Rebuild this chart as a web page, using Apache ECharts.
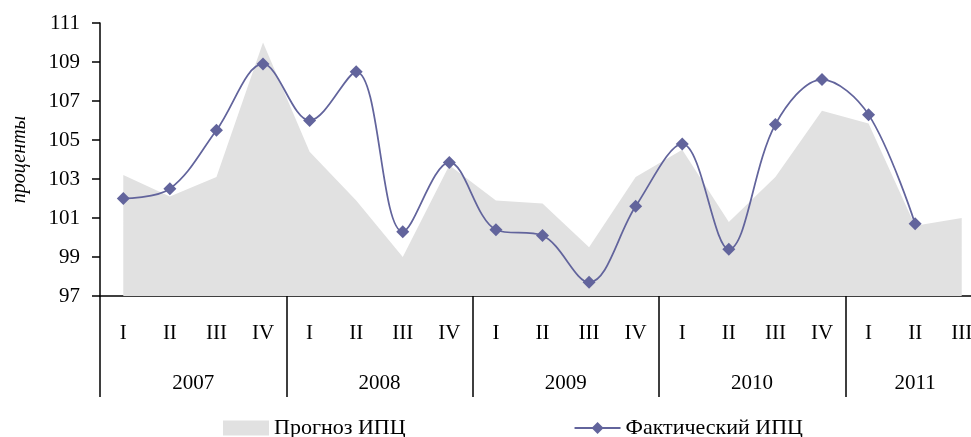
<!DOCTYPE html>
<html><head><meta charset="utf-8">
<script src="https://cdn.jsdelivr.net/npm/echarts@6/dist/echarts.min.js"></script>
<style>html,body{margin:0;padding:0;background:#fff}#c{width:971px;height:437px}</style>
</head><body><div id="c"></div>
<script>
const quarters = ['I','II','III','IV','I','II','III','IV','I','II','III','IV','I','II','III','IV','I','II','III'];
const years = ['2007','2008','2009','2010','2011'];
const quartersPerYear = [4,4,4,4,3];
const forecastCPI = [103.2,102.1,103.1,110.0,104.4,101.9,99.0,103.7,101.9,101.75,99.5,103.1,104.5,100.8,103.1,106.5,105.85,100.6,101.0];
const actualCPI = [102.0,102.5,105.5,108.9,106.0,108.5,100.3,103.85,100.4,100.1,97.7,101.6,104.8,99.4,105.8,108.1,106.3,100.7,null];
const yTicks = {min: 97, max: 111, interval: 2};

const FONT = '"Liberation Serif", "Times New Roman", serif';
const boundaries = [0]; const centers = []; let acc = 0;
quartersPerYear.forEach(n => { centers.push(acc + n/2); acc += n; boundaries.push(acc); });
const labelMap = {}; centers.forEach((c,i) => labelMap[c] = years[i]);

const chart = echarts.init(document.getElementById('c'), null, {renderer:'canvas'});
chart.setOption({
  animation: false,
  backgroundColor: '#fff',
  textStyle: {fontFamily: FONT},
  grid: {left: 100, top: 23, width: 885, height: 273, containLabel: false, outerBoundsMode: 'none'},
  legend: {
    left: 218, top: 412, itemGap: 168, itemWidth: 46, itemHeight: 15,
    textStyle: {fontFamily: FONT, fontSize: 22, color: '#000'},
    data: [{name: 'Прогноз ИПЦ', icon: 'rect'}, {name: 'Фактический ИПЦ'}]
  },
  xAxis: [{
    type: 'category', data: quarters, boundaryGap: true,
    axisLine: {lineStyle: {color: '#000', width: 1.5}},
    axisTick: {show: false},
    axisLabel: {interval: 0, margin: 27, color: '#000', fontFamily: FONT, fontSize: 21}
  }, {
    type: 'value', position: 'bottom', min: 0, max: quarters.length,
    axisLine: {show: false}, splitLine: {show: false},
    axisTick: {show: true, customValues: boundaries, length: 101, lineStyle: {color: '#000', width: 1.5}},
    axisLabel: {customValues: centers, margin: 77, color: '#000', fontFamily: FONT, fontSize: 21,
      formatter: v => labelMap[v] || ''}
  }],
  yAxis: {
    type: 'value', min: yTicks.min, max: yTicks.max, interval: yTicks.interval,
    name: 'проценты', nameLocation: 'middle', nameGap: 70, nameRotate: 90,
    nameTextStyle: {fontFamily: FONT, fontSize: 20, fontStyle: 'italic', color: '#000'},
    axisLine: {show: true, lineStyle: {color: '#000', width: 1.5}},
    axisTick: {show: true, length: 8, lineStyle: {color: '#000', width: 1.5}},
    splitLine: {show: false},
    axisLabel: {margin: 20, color: '#000', fontFamily: FONT, fontSize: 21}
  },
  series: [{
    name: 'Прогноз ИПЦ', type: 'line', data: forecastCPI, symbol: 'none',
    itemStyle: {color: '#e1e1e1'},
    lineStyle: {width: 0, color: '#e1e1e1'},
    areaStyle: {color: '#e1e1e1', opacity: 1}, z: 1
  }, {
    name: 'Фактический ИПЦ', type: 'line', data: actualCPI, smooth: 0.35,
    symbol: 'diamond', symbolSize: 13,
    itemStyle: {color: '#62649c'},
    lineStyle: {color: '#62649c', width: 1.75}, z: 3
  }]
});
</script></body></html>
